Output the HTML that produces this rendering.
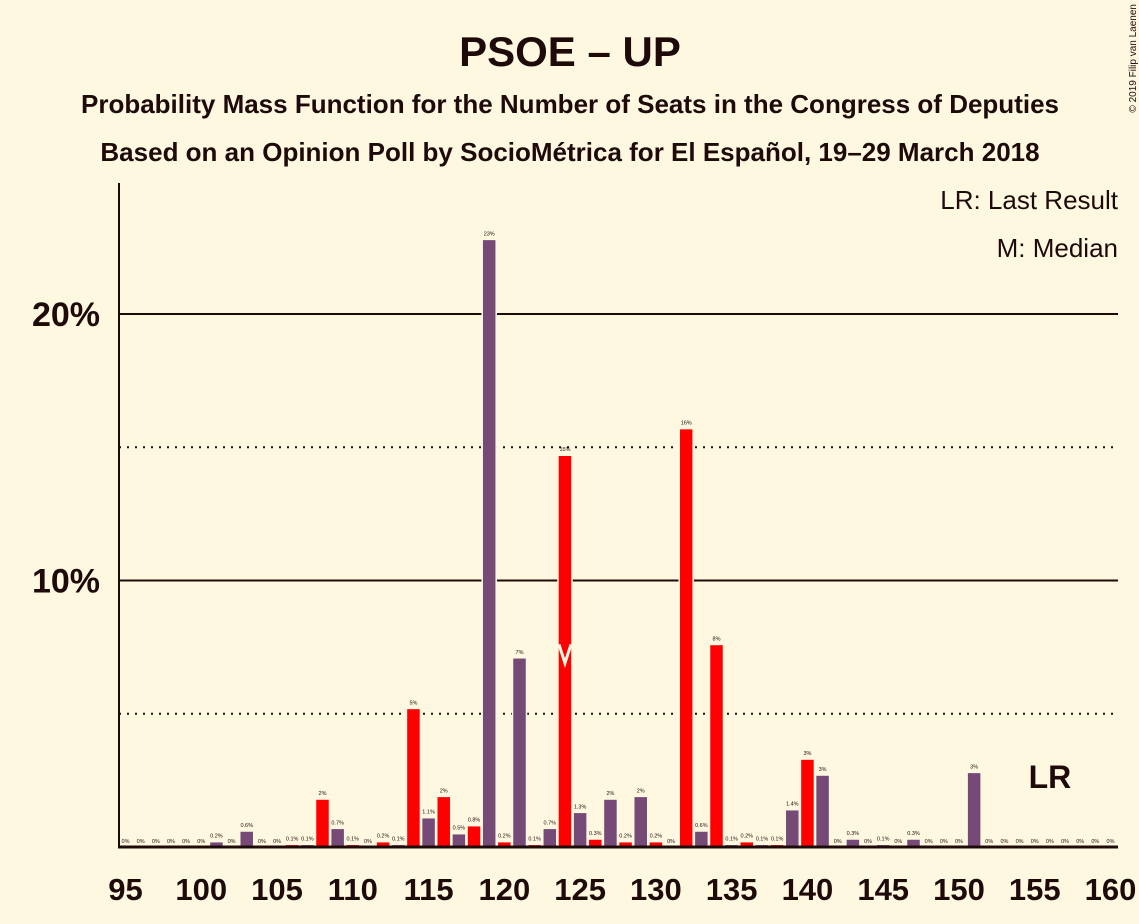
<!DOCTYPE html>
<html><head><meta charset="utf-8"><style>
body{margin:0;background:#fff8e1;}
svg{display:block;font-family:"Liberation Sans",sans-serif;}
</style></head><body>
<svg id="chart" width="1139" height="924" viewBox="0 0 1139 924">
<rect width="1139" height="924" fill="#fff8e1"/>
<text x="570" y="66" text-anchor="middle" font-size="42" font-weight="bold" fill="#1f0a0a">PSOE – UP</text>
<text x="570" y="113" text-anchor="middle" font-size="26" font-weight="bold" fill="#1f0a0a">Probability Mass Function for the Number of Seats in the Congress of Deputies</text>
<text x="570" y="161" text-anchor="middle" font-size="26" font-weight="bold" fill="#1f0a0a">Based on an Opinion Poll by SocioMétrica for El Español, 19–29 March 2018</text>
<text x="1136" y="4" transform="rotate(-90 1136 4)" text-anchor="end" font-size="10" fill="#1f0a0a" dy="0">© 2019 Filip van Laenen</text>
<text x="1118" y="209" text-anchor="end" font-size="26" fill="#1f0a0a">LR: Last Result</text>
<text x="1118" y="257" text-anchor="end" font-size="26" fill="#1f0a0a">M: Median</text>
<g id="grid"></g>
<g id="bars"></g>
<g id="axes"></g>
</svg>
<script>
const seats=[];for(let s=95;s<=160;s++)seats.push(s);
const probs=[0,0,0,0,0,0,0.2,0,0.6,0,0,0.1,0.1,1.8,0.7,0.1,0,0.2,0.1,5.2,1.1,1.9,0.5,0.8,22.8,0.2,7.1,0.1,0.7,14.7,1.3,0.3,1.8,0.2,1.9,0.2,0,15.7,0.6,7.6,0.1,0.2,0.1,0.1,1.4,3.3,2.7,0,0.3,0,0.1,0,0.3,0,0,0,2.8,0,0,0,0,0,0,0,0,0];
const labels=["0%","0%","0%","0%","0%","0%","0.2%","0%","0.6%","0%","0%","0.1%","0.1%","2%","0.7%","0.1%","0%","0.2%","0.1%","5%","1.1%","2%","0.5%","0.8%","23%","0.2%","7%","0.1%","0.7%","15%","1.3%","0.3%","2%","0.2%","2%","0.2%","0%","16%","0.6%","8%","0.1%","0.2%","0.1%","0.1%","1.4%","3%","3%","0%","0.3%","0%","0.1%","0%","0.3%","0%","0%","0%","3%","0%","0%","0%","0%","0%","0%","0%","0%","0%"];
const xTicks=[95,100,105,110,115,120,125,130,135,140,145,150,155,160];
const yTicks=[5,10,15,20];
const median=124, lastResult=156;
const NS="http://www.w3.org/2000/svg";
const X=s=>125.5+(s-95)*15.154;
const Y=p=>847-p*26.65;
function mk(t,a,parent){const e=document.createElementNS(NS,t);for(const k in a)e.setAttribute(k,a[k]);document.getElementById(parent).appendChild(e);return e;}
yTicks.forEach(t=>{
  const l=mk('line',{x1:119,x2:1118,y1:Y(t),y2:Y(t),stroke:'#1f0a0a','stroke-width':2,'stroke-dasharray':t%10===0?'none':'2,6'},'grid');
  
  
  if(t%10===0){const tx=mk('text',{x:100,y:Y(t)+12,'text-anchor':'end','font-size':34,'font-weight':'bold',fill:'#1f0a0a'},'axes');tx.textContent=t+'%';
  
  }
});
seats.forEach((s,i)=>{
  const p=probs[i];
  const col=s%2===0?'#ff0000':'#764a77';
  if(p>0){const r=mk('rect',{x:X(s)-7,y:Y(p),width:14,height:847-Y(p),fill:col,stroke:'#fff8e1','stroke-width':1.5},'bars');
  
  }
  const t=mk('text',{x:X(s),y:Y(p)-4,'text-anchor':'middle','font-size':5.5,fill:'#1f0a0a'},'bars');t.textContent=labels[i];
  
  
});
const mv=mk('polyline',{points:`${X(median)-6},${Y(7.6)} ${X(median)},${Y(6.9)} ${X(median)+6},${Y(7.6)}`,fill:'none',stroke:'#fff8e1','stroke-width':3},'bars');


const lr=mk('text',{x:X(lastResult),y:788,'text-anchor':'middle','font-size':32,'font-weight':'bold',fill:'#1f0a0a'},'bars');lr.textContent='LR';


const ya=mk('line',{x1:119,x2:119,y1:183,y2:848,stroke:'#1f0a0a','stroke-width':2},'axes');


const xa=mk('line',{x1:118,x2:1118,y1:847,y2:847,stroke:'#1f0a0a','stroke-width':3},'axes');


xTicks.forEach(s=>{const t=mk('text',{x:X(s),y:900,'text-anchor':'middle','font-size':31,'font-weight':'bold',fill:'#1f0a0a'},'axes');t.textContent=s;
  
  });
</script>
</body></html>
